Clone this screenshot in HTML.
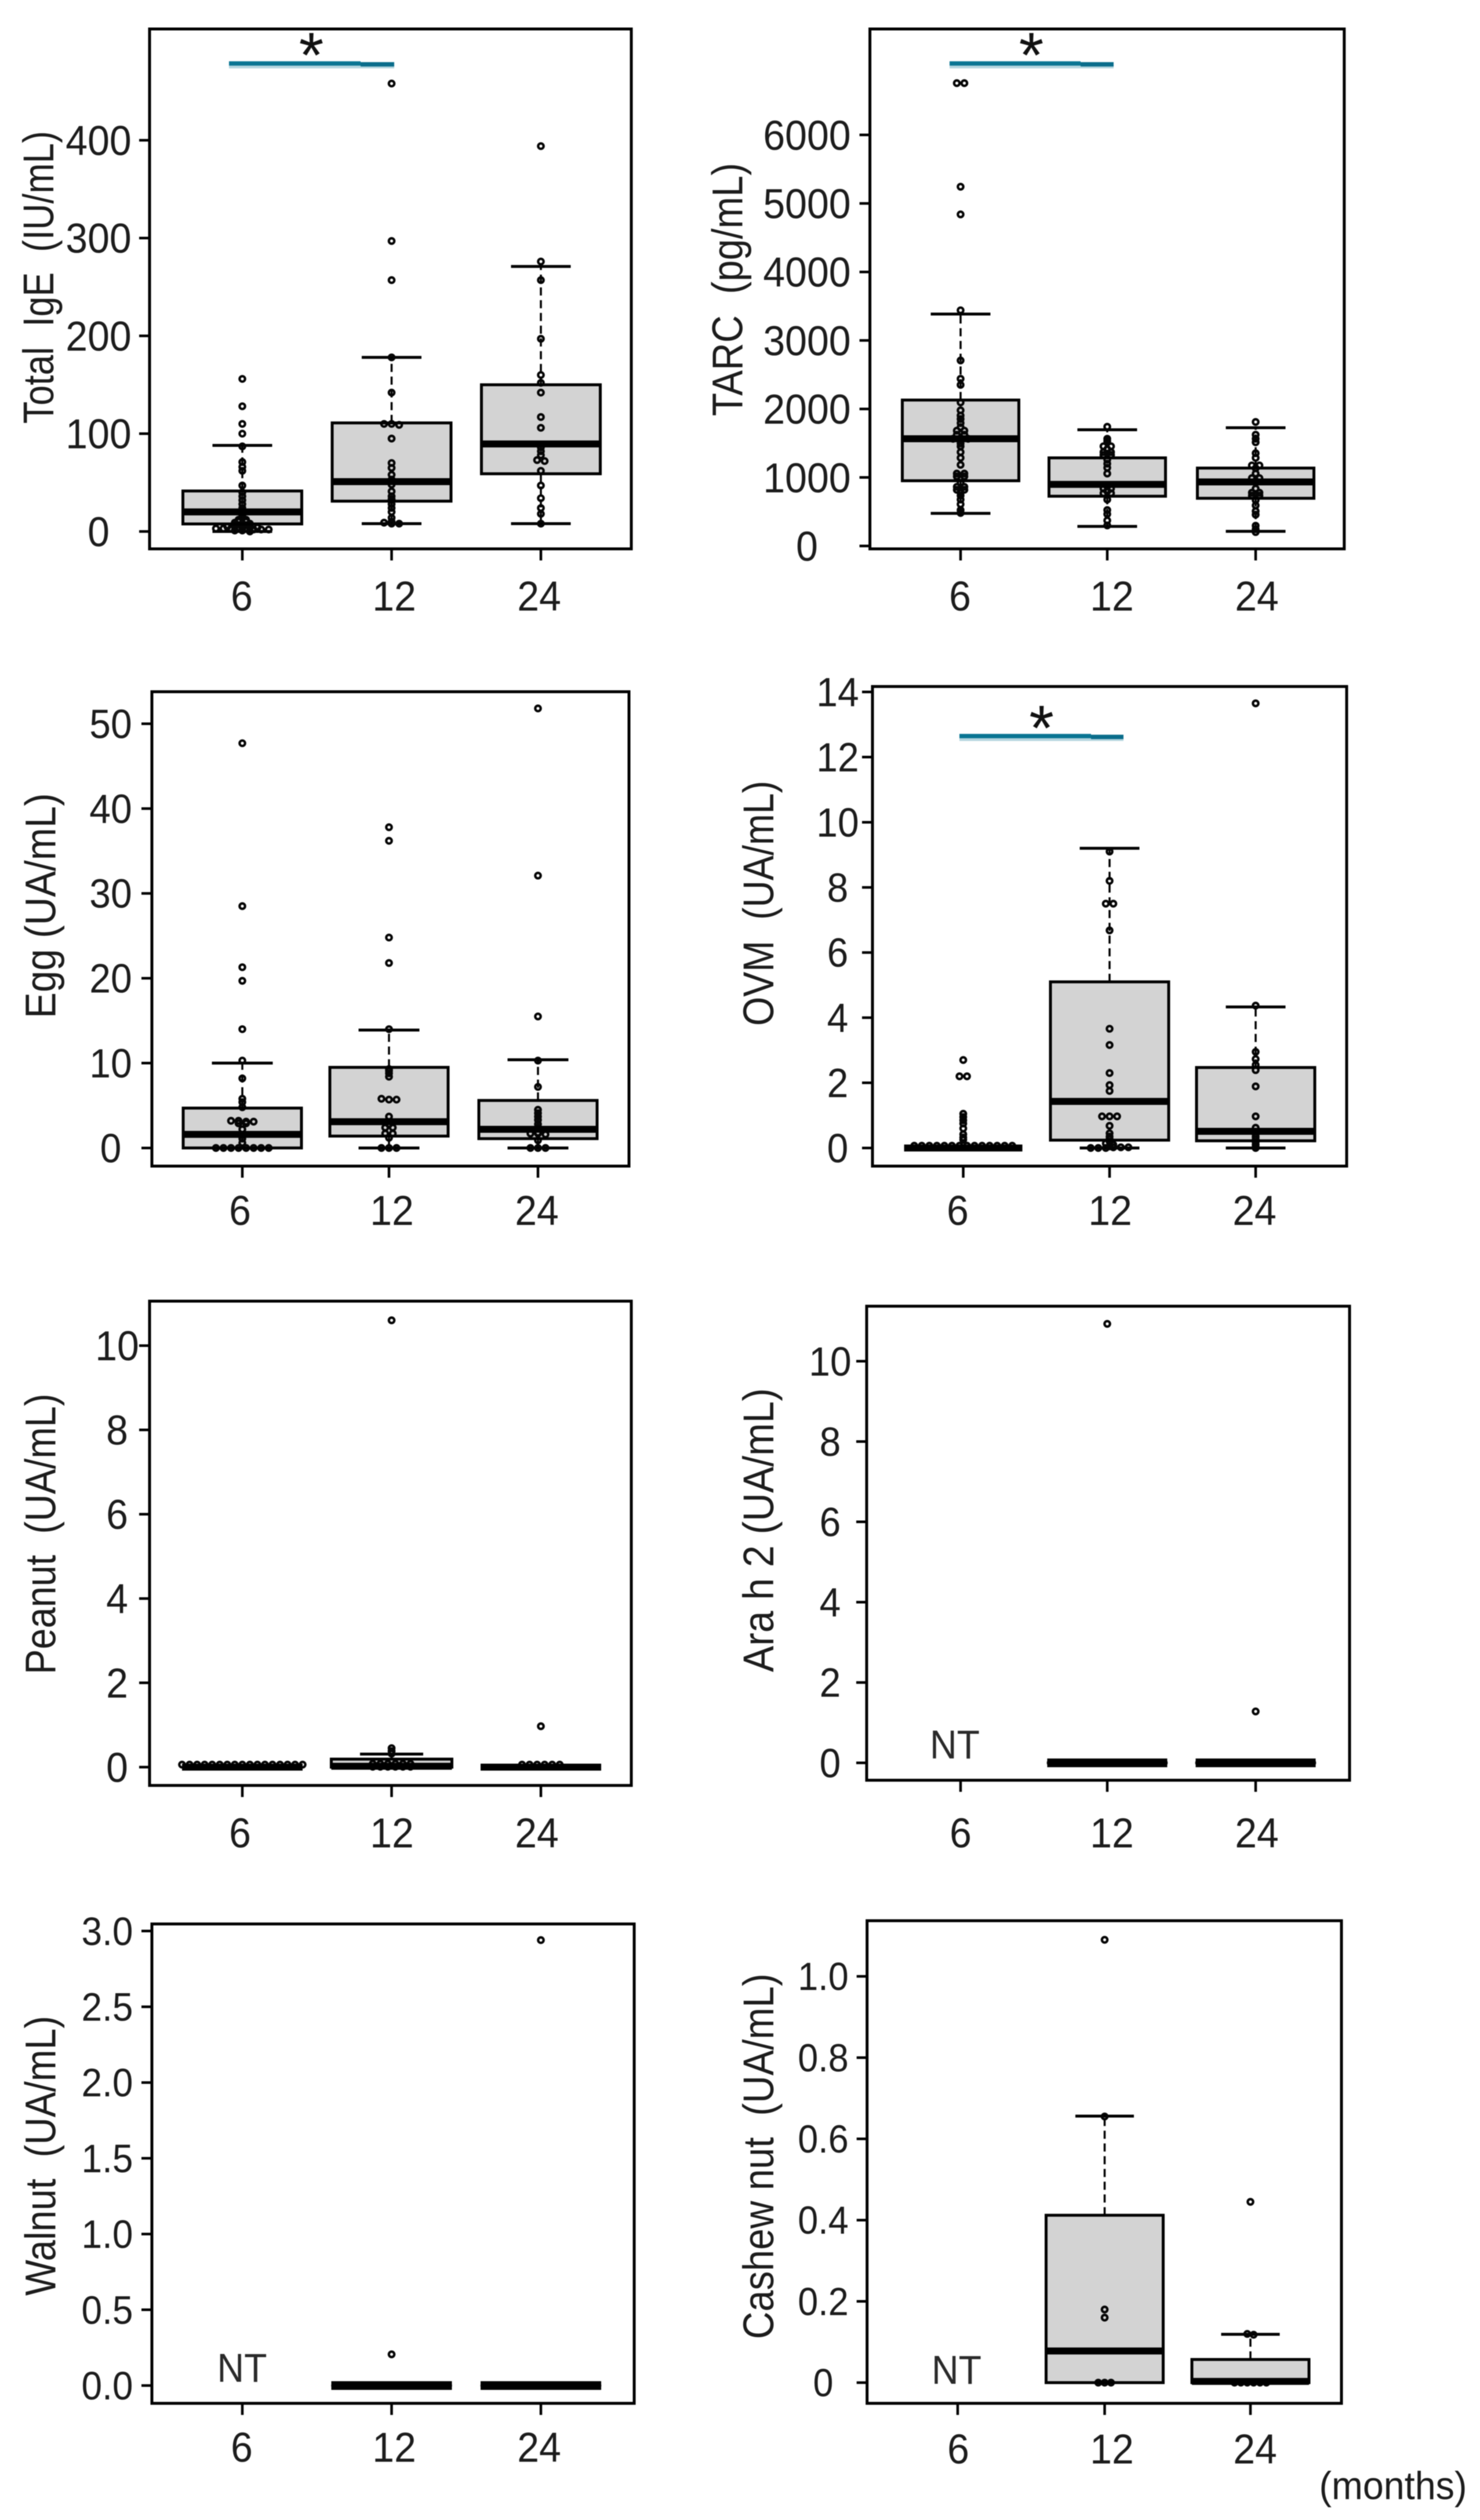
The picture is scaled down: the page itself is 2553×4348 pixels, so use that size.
<!DOCTYPE html>
<html lang="en">
<head>
<meta charset="utf-8">
<title>Serum IgE boxplots at 6, 12 and 24 months</title>
<style>
html,body{margin:0;padding:0;background:#fff;}
#figure{display:block;width:2553px;height:4348px;filter:blur(0.7px);font-family:"Liberation Sans",sans-serif;}
</style>
</head>
<body>
<svg id="figure" xmlns="http://www.w3.org/2000/svg" width="2553" height="4348" viewBox="0 0 2553 4348"></svg>
<script>
// ---------- shared categories ----------
const categories = ['6', '12', '24'];

// ---------- Total IgE (IU/mL) ----------
const igeTicks = [0, 100, 200, 300, 400];
const igeStats6 = [0, 7.7, 20, 41.4, 88];
const igeStats12 = [8, 31, 51, 111, 178];
const igeStats24 = [8, 59, 89.5, 150, 271];
const igePoints6 = [156,128,110,100,87,71,66,62,47,40,36,32,28,24,22,20,18,16,14,12,12,10,10,9,8,8,7,6,6,5,5,4,4,4,3,3,3,3,3,2,2,2,1,1,0];
const igePoints12 = [458,297,257,178,142,110,110,109,95,70,65,58,53,48,41,36,33,32,28,24,20,14,10,9,8,8];
const igePoints24 = [394,276,257,197,160,152,142,117,106,86,82,78,73,72,62,47,34,24,18,8];

// ---------- TARC (pg/mL) ----------
const tarcTicks = [0, 1000, 2000, 3000, 4000, 5000, 6000];
const tarcStats6 = [476, 952, 1565, 2130, 3385];
const tarcStats12 = [286, 726, 899, 1286, 1696];
const tarcStats24 = [214, 696, 935, 1137, 1726];
const tarcPoints6 = [6756,6756,5244,4840,3440,2708,2440,2351,2095,1980,1904,1853,1794,1734,1683,1683,1624,1624,1565,1565,1565,1497,1455,1370,1286,1184,1057,1057,1015,1015,922,863,863,820,820,778,736,677,609,524,482];
const tarcPoints12 = [1740,1565,1530,1455,1455,1413,1370,1370,1328,1328,1260,1201,1142,1057,870,837,837,800,770,770,677,524,465,372,300];
const tarcPoints24 = [1810,1624,1565,1514,1354,1286,1176,1176,1134,1057,990,990,947,838,778,778,736,736,668,592,508,457,296,245,203];

// ---------- Egg (UA/mL) ----------
const eggTicks = [0, 10, 20, 30, 40, 50];
const eggStats6 = [0, 0, 1.6, 4.7, 10];
const eggStats12 = [0, 1.4, 3.1, 9.5, 13.9];
const eggStats24 = [0, 1.1, 2.2, 5.6, 10.4];
const eggPoints6 = [47.7,28.5,21.3,19.7,14,10.3,8.2,5.8,5.4,4.8,3.2,3.2,3.1,3.1,2.9,2.9,2.2,1.5,1.1,0.6,0,0,0,0,0,0,0,0];
const eggPoints12 = [37.8,36.2,24.8,21.8,14,9.3,9.1,8.8,8.4,5.8,5.7,5.7,3.7,2.8,2.4,2.4,1.7,1.7,1.2,0,0,0];
const eggPoints24 = [51.8,32.1,15.5,10.3,7.2,4.5,4.1,3.7,3.3,2.8,2.4,1.8,1.7,1.7,1.6,0.9,0,0,0];

// ---------- OVM (UA/mL) ----------
const ovmTicks = [0, 2, 4, 6, 8, 10, 12, 14];
const ovmStats6 = [0, 0, 0, 0, 0];
const ovmStats12 = [0, 0.24, 1.43, 5.1, 9.2];
const ovmStats24 = [0, 0.22, 0.51, 2.47, 4.33];
const ovmPoints6 = [2.7,2.2,2.2,1.05,0.95,0.85,0.75,0.6,0.42,0.32,0.25,0.07,0.07,0.07,0.07,0.07,0.07,0.07,0.07,0.07,0.07,0.07,0.07,0.07,0.07];
const ovmPoints12 = [9.1,8.2,7.5,7.5,6.68,3.66,3.16,2.3,1.93,1.75,0.97,0.97,0.97,0.68,0.45,0.35,0.28,0.2,0.14,0.1,0.05,0,0,0,0.02,0.02,0.02];
const ovmPoints24 = [13.65,4.37,2.95,2.73,2.55,2.39,1.89,0.97,0.62,0.5,0.42,0.34,0.26,0.18,0.1,0.03,0];

// ---------- Peanut (UA/mL) ----------
const peanutTicks = [0, 2, 4, 6, 8, 10];
const peanutStats6 = [0, 0, 0, 0, 0];
const peanutStats12 = [0, 0, 0.02, 0.19, 0.31];
const peanutStats24 = [0, 0, 0, 0, 0];
const peanutPoints6 = [0.06,0.06,0.06,0.06,0.06,0.06,0.06,0.06,0.06,0.06,0.06,0.06,0.06,0.06,0.06,0.06,0.06];
const peanutPoints12 = [10.6,0.45,0.38,0.32,0.08,0.08,0.08,0.08,0.08,0.08,0.01,0.01,0.01,0.01,0.01,0.01];
const peanutPoints24 = [0.97,0.06,0.06,0.06,0.06,0.06,0.06];

// ---------- Ara h 2 (UA/mL) ----------
const araTicks = [0, 2, 4, 6, 8, 10];
const araStats12 = [0, 0, 0, 0, 0];
const araStats24 = [0, 0, 0, 0, 0];
const araPoints12 = [10.93,0,0,0,0,0,0,0,0,0,0,0,0,0,0,0,0];
const araPoints24 = [1.28,0,0,0,0,0,0,0,0,0,0,0,0,0,0,0,0];

// ---------- Walnut (UA/mL) ----------
const walnutTicks = [0, 0.5, 1, 1.5, 2, 2.5, 3];
const walnutLabels = ['0.0', '0.5', '1.0', '1.5', '2.0', '2.5', '3.0'];
const walnutStats12 = [0, 0, 0, 0, 0];
const walnutStats24 = [0, 0, 0, 0, 0];
const walnutPoints12 = [0.206,0,0,0,0,0,0,0,0,0,0,0,0,0,0,0,0];
const walnutPoints24 = [2.94,0,0,0,0,0,0,0,0,0,0,0,0,0,0,0,0];

// ---------- Cashew nut (UA/mL) ----------
const cashewTicks = [0, 0.2, 0.4, 0.6, 0.8, 1];
const cashewLabels = ['0', '0.2', '0.4', '0.6', '0.8', '1.0'];
const cashewStats12 = [0, 0, 0.078, 0.412, 0.656];
const cashewStats24 = [0, 0, 0.003, 0.057, 0.119];
const cashewPoints12 = [1.09,0.655,0.18,0.16,0,0,0];
const cashewPoints24 = [0.445,0.12,0.118,0,0,0,0,0,0];

// ---------- panel definitions (layout separated from the data arrays) ----------
const panels = [
  {slug:'total-ige', title:'Total\u00a0 IgE\u00a0 (IU/mL)', L:258, R:1089, T:50, B:947, xt:[418,675.5,933], y0:917, k:1.6875,
   ticks:igeTicks, tickLabels:null, tickCx:170, tickFs:68, boxW:205, capW:103, lblY:1028, lblX:[417,680,930],
   titleX:92, titleBottom:731, titleTop:226, stats:[igeStats6,igeStats12,igeStats24], pts:[igePoints6,igePoints12,igePoints24],
   sig:{a:395,m:622,b:680,y:109.5,sx:537,sy:133}},
  {slug:'tarc', title:'TARC\u00a0 (pg/mL)', L:1500.6, R:2318.8, T:50, B:947, xt:[1657,1910,2166], y0:942, k:0.1182,
   ticks:tarcTicks, tickLabels:null, tickCx:1392, tickFs:68, boxW:201, capW:103, lblY:1028, lblX:[1656,1918,2168],
   titleX:1280.5, titleBottom:718, titleTop:281, stats:[tarcStats6,tarcStats12,tarcStats24], pts:[tarcPoints6,tarcPoints12,tarcPoints24],
   sig:{a:1638,m:1864,b:1921,y:109.5,sx:1779,sy:133}},
  {slug:'egg', title:'Egg (UA/mL)', L:262, R:1085, T:1193.5, B:2012, xt:[418,671,928], y0:1980.7, k:14.64,
   ticks:eggTicks, tickLabels:null, tickCx:191, tickFs:66, boxW:204, capW:105, lblY:2088, lblX:[414,676,926],
   titleX:95.5, titleBottom:1757, titleTop:1368.5, stats:[eggStats6,eggStats12,eggStats24], pts:[eggPoints6,eggPoints12,eggPoints24]},
  {slug:'ovm', title:'OVM\u00a0 (UA/mL)', L:1505, R:2323, T:1184.5, B:2012, xt:[1661.6,1914,2166], y0:1980.7, k:56.2,
   ticks:ovmTicks, tickLabels:null, tickCx:1445, tickFs:66, boxW:204, capW:103, lblY:2088, lblX:[1652,1915,2164],
   titleX:1334, titleBottom:1770, titleTop:1347, stats:[ovmStats6,ovmStats12,ovmStats24], pts:[ovmPoints6,ovmPoints12,ovmPoints24],
   sig:{a:1655,m:1882,b:1938,y:1270,sx:1796.6,sy:1294}},
  {slug:'peanut', title:'Peanut\u00a0 (UA/mL)', L:258, R:1089, T:2245, B:3080.6, xt:[418,675.5,933], y0:3049, k:72.73,
   ticks:peanutTicks, tickLabels:null, tickCx:202, tickFs:68, boxW:208, capW:109, lblY:3162, lblX:[414,676,926],
   titleX:95.5, titleBottom:2889, titleTop:2404.5, stats:[peanutStats6,peanutStats12,peanutStats24], pts:[peanutPoints6,peanutPoints12,peanutPoints24]},
  {slug:'ara-h-2', title:'Ara h 2 (UA/mL)', L:1495, R:2328, T:2253.7, B:3071.6, xt:[1657,1910,2166], y0:3041.6, k:69.3,
   ticks:araTicks, tickLabels:null, tickCx:1432, tickFs:66, boxW:207, capW:100, lblY:3162, lblX:[1657,1918,2168],
   titleX:1334, titleBottom:2885, titleTop:2395, stats:[null,araStats12,araStats24], pts:[null,araPoints12,araPoints24],
   nt:{x:1647,y:3009}, medW:15},
  {slug:'walnut', title:'Walnut\u00a0 (UA/mL)', L:262, R:1094, T:3319.6, B:4146.7, xt:[418,675.5,933], y0:4116, k:261.4,
   ticks:walnutTicks, tickLabels:walnutLabels, tickCx:185, tickFs:64, boxW:208, capW:100, lblY:4222, lblX:[417,680,930],
   titleX:95.5, titleBottom:3961, titleTop:3478, stats:[null,walnutStats12,walnutStats24], pts:[null,walnutPoints12,walnutPoints24],
   nt:{x:417.5,y:4084.6}, medW:15},
  {slug:'cashew-nut', title:'Cashew nut\u00a0 (UA/mL)', L:1495.7, R:2314, T:3314, B:4146.7, xt:[1652,1905.5,2157], y0:4111, k:701,
   ticks:cashewTicks, tickLabels:cashewLabels, tickCx:1420, tickFs:63, boxW:202, capW:101, lblY:4225, lblX:[1653,1918,2165],
   titleX:1334, titleBottom:4036, titleTop:3405, stats:[null,cashewStats12,cashewStats24], pts:[null,cashewPoints12,cashewPoints24],
   nt:{x:1650,y:4088}, step:11}
];

const INK = '#000';
const TEXT = '#1c1c1c';
const svg = document.getElementById('figure');
const NS = 'http://www.w3.org/2000/svg';

function make(parent, tag, attrs, name) {
  const el = document.createElementNS(NS, tag);
  for (const key in attrs) el.setAttribute(key, attrs[key]);
  
  
  parent.appendChild(el);
  return el;
}
function label(parent, str, attrs, name) {
  const el = make(parent, 'text', attrs, name);
  el.textContent = str;
  return el;
}
function yScale(p, v) { return p.y0 - p.k * v; }
function xScale(p, i) { return p.xt[i]; }
function numberWidth(str, fs) {
  let em = 0;
  for (const ch of str) em += ch === '.' ? 0.278 : 0.556;
  return em * fs;
}
function tallNumber(parent, str, x, yCenter, fs, name) {
  const tall = fs * 1.07;
  return label(parent, str, {
    x:x, y:yCenter + tall * 0.35, 'text-anchor':'middle', 'font-size':tall, fill:TEXT,
    textLength:numberWidth(str, fs), lengthAdjust:'spacingAndGlyphs'
  }, name);
}

function swarm(p, values, cx, step) {
  const bins = new Map();
  values.forEach(v => {
    const y = yScale(p, v);
    const key = Math.round(y / 3.5);
    if (!bins.has(key)) bins.set(key, []);
    bins.get(key).push(y);
  });
  const out = [];
  bins.forEach(list => {
    list.forEach((y, j) => out.push({x: cx + (j - (list.length - 1) / 2) * step, y}));
  });
  return out;
}

function drawBoxBody(p, g, i, s) {
  const cx = xScale(p, i), hw = p.boxW / 2, cw = p.capW / 2;
  const [lo, q1, , q3, hi] = s.map(v => yScale(p, v));
  const cat = categories[i];
  make(g, 'line', {x1:cx, x2:cx, y1:q3, y2:hi, stroke:INK, 'stroke-width':3.5, 'stroke-dasharray':'14 8'}, 'upper-whisker-' + cat);
  make(g, 'line', {x1:cx, x2:cx, y1:q1, y2:lo, stroke:INK, 'stroke-width':3.5, 'stroke-dasharray':'14 8'}, 'lower-whisker-' + cat);
  make(g, 'line', {x1:cx - cw, x2:cx + cw, y1:hi, y2:hi, stroke:INK, 'stroke-width':5}, 'upper-cap-' + cat);
  make(g, 'line', {x1:cx - cw, x2:cx + cw, y1:lo, y2:lo, stroke:INK, 'stroke-width':5}, 'lower-cap-' + cat);
  make(g, 'rect', {x:cx - hw, y:q3, width:p.boxW, height:Math.max(q1 - q3, 0), fill:'#d3d3d3'}, 'box-fill-' + cat);
}
function drawBoxTop(p, g, i, s) {
  const cx = xScale(p, i), hw = p.boxW / 2;
  const [, q1, med, q3] = s.map(v => yScale(p, v));
  const cat = categories[i];
  make(g, 'rect', {x:cx - hw, y:q3, width:p.boxW, height:Math.max(q1 - q3, 0), fill:'none', stroke:INK, 'stroke-width':5}, 'box-' + cat);
  make(g, 'line', {x1:cx - hw, x2:cx + hw, y1:med, y2:med, stroke:INK, 'stroke-width':p.medW || 12}, 'median-' + cat);
}

function drawPanel(p) {
  const g = make(svg, 'g', {}, 'panel-' + p.slug);

  p.ticks.forEach((t, i) => {
    const y = yScale(p, t);
    make(g, 'line', {x1:p.L - 18, x2:p.L, y1:y, y2:y, stroke:INK, 'stroke-width':4.5}, 'y-tick');
    const txt = p.tickLabels ? p.tickLabels[i] : String(t);
    tallNumber(g, txt, p.tickCx, y, p.tickFs, 'y-tick-label');
  });

  categories.forEach((c, i) => {
    const x = xScale(p, i);
    make(g, 'line', {x1:x, x2:x, y1:p.B, y2:p.B + 20, stroke:INK, 'stroke-width':4.5}, 'x-tick');
    tallNumber(g, c, p.lblX[i], p.lblY, 68, 'x-tick-label');
  });

  label(g, p.title, {
    x:p.titleX, y:p.titleBottom, 'font-size':74, fill:TEXT,
    transform:'rotate(-90 ' + p.titleX + ' ' + p.titleBottom + ')',
    textLength:p.titleBottom - p.titleTop, lengthAdjust:'spacingAndGlyphs'
  }, 'y-axis-title');

  categories.forEach((c, i) => {
    if (p.stats[i]) {
      const gb = make(g, 'g', {}, 'boxplot-' + c + '-months');
      drawBoxBody(p, gb, i, p.stats[i]);
    }
  });
  categories.forEach((c, i) => {
    if (p.pts[i]) {
      const gd = make(g, 'g', {}, 'points-' + c + '-months');
      swarm(p, p.pts[i], xScale(p, i), p.step || 13).forEach(d => {
        make(gd, 'circle', {cx:d.x, cy:d.y, r:4.7, fill:'none', stroke:'#050505', 'stroke-width':4.2}, 'data-point');
      });
    }
  });
  categories.forEach((c, i) => {
    if (p.stats[i]) {
      const gt = make(g, 'g', {}, 'box-outline-' + c + '-months');
      drawBoxTop(p, gt, i, p.stats[i]);
    }
  });

  make(g, 'rect', {x:p.L, y:p.T, width:p.R - p.L, height:p.B - p.T, fill:'none', stroke:INK, 'stroke-width':5}, 'plot-frame');

  if (p.sig) {
    const s = p.sig;
    make(g, 'line', {x1:s.a, x2:s.b, y1:s.y + 3, y2:s.y + 3, stroke:'#0b7796', 'stroke-width':11, 'stroke-opacity':0.3}, 'significance-bar-halo');
    make(g, 'line', {x1:s.a, x2:s.m, y1:s.y, y2:s.y, stroke:'#0a7593', 'stroke-width':7.5}, 'significance-bar');
    make(g, 'line', {x1:s.m, x2:s.b, y1:s.y + 1.5, y2:s.y + 1.5, stroke:'#0a6d8b', 'stroke-width':7.5}, 'significance-bar-end');
    label(g, '*', {x:s.sx, y:s.sy, 'text-anchor':'middle', 'font-size':110, fill:'#111'}, 'significance-star');
  }
  if (p.nt) {
    label(g, 'NT', {x:p.nt.x, y:p.nt.y + 25, 'text-anchor':'middle', 'font-size':70, fill:'#2a2a2a', textLength:86, lengthAdjust:'spacingAndGlyphs'}, 'not-tested-label');
  }
}

panels.forEach(drawPanel);

label(svg, '(months)', {x:2403, y:4312, 'text-anchor':'middle', 'font-size':68, fill:TEXT, textLength:255, lengthAdjust:'spacingAndGlyphs'}, 'x-axis-unit-label');
</script>
</body>
</html>
